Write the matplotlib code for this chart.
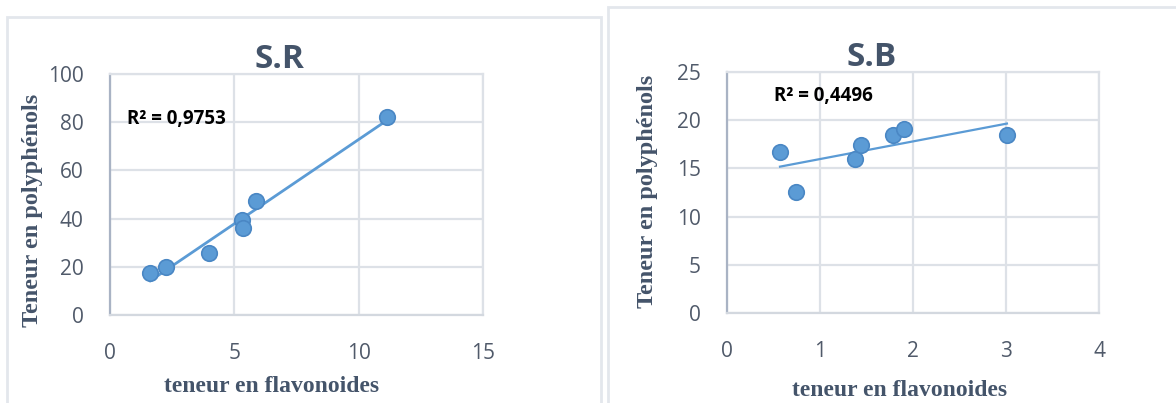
import numpy as np
import matplotlib
matplotlib.use("Agg")
import matplotlib.pyplot as plt
from matplotlib.patches import Rectangle

# --- data -------------------------------------------------------------
sr_flavo = [1.62, 2.25, 4.0, 5.29, 5.33, 5.86, 11.12]
sr_poly = [17.4, 20.1, 25.7, 39.5, 36.0, 47.5, 82.0]
sr_r2 = "R² = 0,9753"

sb_flavo = [0.57, 0.74, 1.38, 1.44, 1.79, 1.90, 3.01]
sb_poly = [16.7, 12.6, 16.0, 17.4, 18.5, 19.1, 18.5]
sb_r2 = "R² = 0,4496"

sr_xticks = [0, 5, 10, 15]
sr_yticks = [0, 20, 40, 60, 80, 100]
sb_xticks = [0, 1, 2, 3, 4]
sb_yticks = [0, 5, 10, 15, 20, 25]

xlabel = "teneur en flavonoides"
ylabel = "Teneur en polyphénols"

# --- style ------------------------------------------------------------
W, H = 1176, 403
DPI = 100
BLUE = "#5B9BD5"
EDGE = "#4A87C4"
GRID = "#DDE1E7"
TICK = "#505A6A"
LABEL = "#44546A"
BORDER = "#E3E7EC"

fig = plt.figure(figsize=(W / DPI, H / DPI), dpi=DPI)
fig.patch.set_facecolor("white")


def px_axes(left, top, right, bottom):
    return fig.add_axes([left / W, 1 - bottom / H, (right - left) / W, (bottom - top) / H])


def panel_border(left, top, right, bottom):
    fig.patches.append(Rectangle((left / W, 1 - bottom / H), (right - left) / W,
                                 (bottom - top) / H, transform=fig.transFigure,
                                 fill=False, edgecolor=BORDER, linewidth=2.0, zorder=0))


def scatter_panel(ax, x, y, xticks, yticks, r2, r2_pos, lw):
    x = np.asarray(x)
    y = np.asarray(y)
    ax.set_xlim(xticks[0], xticks[-1])
    ax.set_ylim(yticks[0], yticks[-1])
    ax.set_xticks(xticks)
    ax.set_yticks(yticks)
    ax.grid(True, color=GRID, linewidth=1.6)
    ax.set_axisbelow(True)
    for side in ("top", "right"):
        ax.spines[side].set_color(GRID)
        ax.spines[side].set_linewidth(1.6)
    ax.spines["bottom"].set_color("#D3D8DF")
    ax.spines["bottom"].set_linewidth(1.6)
    ax.spines["left"].set_color("#A9B3C4")
    ax.spines["left"].set_linewidth(1.6)
    ax.tick_params(length=0, labelsize=15, labelcolor=TICK)
    ax.tick_params(axis="x", pad=20)
    ax.tick_params(axis="y", pad=19)
    for lab in ax.get_xticklabels() + ax.get_yticklabels():
        lab.set_fontfamily("Open Sans")

    # linear trend line over the data range
    slope, intercept = np.polyfit(x, y, 1)
    xs = np.array([x.min(), x.max()])
    ax.plot(xs, slope * xs + intercept, color=BLUE, linewidth=lw, zorder=3)
    ax.scatter(x, y, s=125, color=BLUE, edgecolor=EDGE, linewidth=1.2, zorder=4)
    ax.text(r2_pos[0], r2_pos[1], r2, transform=ax.transAxes, fontsize=13.5,
            fontweight="bold", family="Open Sans", color="black", va="center", ha="left")


# left panel: S.R
panel_border(7, 17, 601, 420)
ax1 = px_axes(110, 74, 483, 315)
scatter_panel(ax1, sr_flavo, sr_poly, sr_xticks, sr_yticks, sr_r2, (0.045, 0.815), 2.0)
fig.text(279 / W, 1 - 60 / H, "S.R", fontsize=24, fontweight="bold", family="Open Sans",
         color=LABEL, ha="center", va="center")
fig.text(272 / W, 1 - 386 / H, xlabel, fontsize=17, fontweight="bold",
         family="Liberation Serif", color=LABEL, ha="center", va="center")
fig.text(33 / W, 1 - 210 / H, ylabel, fontsize=17.5, fontweight="bold",
         family="Liberation Serif", color=LABEL, ha="center", va="center", rotation=90)

# right panel: S.B
panel_border(608, 7, 1190, 420)
ax2 = px_axes(727, 72, 1099, 313)
scatter_panel(ax2, sb_flavo, sb_poly, sb_xticks, sb_yticks, sb_r2, (0.125, 0.9), 1.6)
fig.text(872 / W, 1 - 57 / H, "S.B", fontsize=24, fontweight="bold", family="Open Sans",
         color=LABEL, ha="center", va="center")
fig.text(900 / W, 1 - 391 / H, xlabel, fontsize=17, fontweight="bold",
         family="Liberation Serif", color=LABEL, ha="center", va="center")
fig.text(647 / W, 1 - 191 / H, ylabel, fontsize=17.5, fontweight="bold",
         family="Liberation Serif", color=LABEL, ha="center", va="center", rotation=90)

fig.savefig("out.png", dpi=DPI)
